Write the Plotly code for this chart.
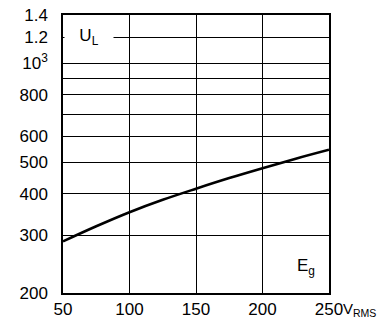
import math
import plotly.graph_objects as go

x_vals = [50, 75, 100, 125, 150, 175, 200, 225, 250]
y_vals = [287, 319, 352, 384, 415, 447, 479, 512, 545]

x_ticks = [50, 100, 150, 200, 250]
x_ticktext = ["50", "100", "150", "200", "250"]
y_ticks = [200, 300, 400, 500, 600, 700, 800, 900, 1000, 1200, 1400]
y_ticktext = ["200", "300", "400", "500", "600", "", "800", "", "10<sup>3</sup>", "1.2", "1.4"]

FONT = dict(family="Liberation Sans, Arial, sans-serif", size=17, color="black")
FONT_V = dict(family="Liberation Sans, Arial, sans-serif", size=15, color="black")

fig = go.Figure()
fig.add_trace(go.Scatter(x=x_vals, y=y_vals, mode="lines",
                         line=dict(color="black", width=2.6, shape="spline", smoothing=1.0),
                         hoverinfo="skip", showlegend=False))

fig.update_layout(
    width=378, height=322,
    margin=dict(l=63, r=49, t=15, b=29, autoexpand=False),
    paper_bgcolor="white", plot_bgcolor="white",
    font=FONT,
    showlegend=False,
)
fig.update_xaxes(range=[50, 250], tickvals=x_ticks, ticktext=x_ticktext,
                 showgrid=True, gridcolor="black", gridwidth=1.3,
                 showline=True, linecolor="black", linewidth=1.5, mirror=True,
                 zeroline=False, ticks="", ticklabelstandoff=0, tickfont=FONT,
                 automargin=False)
fig.update_yaxes(type="log", range=[math.log10(200), math.log10(1400)],
                 tickvals=y_ticks, ticktext=y_ticktext,
                 showgrid=True, gridcolor="black", gridwidth=1.3,
                 showline=True, linecolor="black", linewidth=1.5, mirror=True,
                 zeroline=False, ticks="", ticklabelstandoff=10, tickfont=FONT,
                 automargin=False)

fig.add_annotation(x=0.004, xref="paper", y=math.log10(1200), yref="y",
                   xanchor="left", yanchor="middle",
                   text="U<sub>L</sub>", showarrow=False, bgcolor="white",
                   width=46, height=22, align="center", font=FONT)
fig.add_annotation(x=233, xref="x", y=math.log10(240), yref="y",
                   xanchor="center", yanchor="middle",
                   text="E<sub>g</sub>", showarrow=False, font=FONT)
fig.add_annotation(x=1.05, xref="paper", y=0, yref="paper", xanchor="left", yanchor="top",
                   yshift=-6, text="V<sub>RMS</sub>", showarrow=False, font=FONT_V,
                   borderpad=0)

fig.write_html("out.html", config={"displayModeBar": False},
               post_script="document.body.style.margin='0';")
